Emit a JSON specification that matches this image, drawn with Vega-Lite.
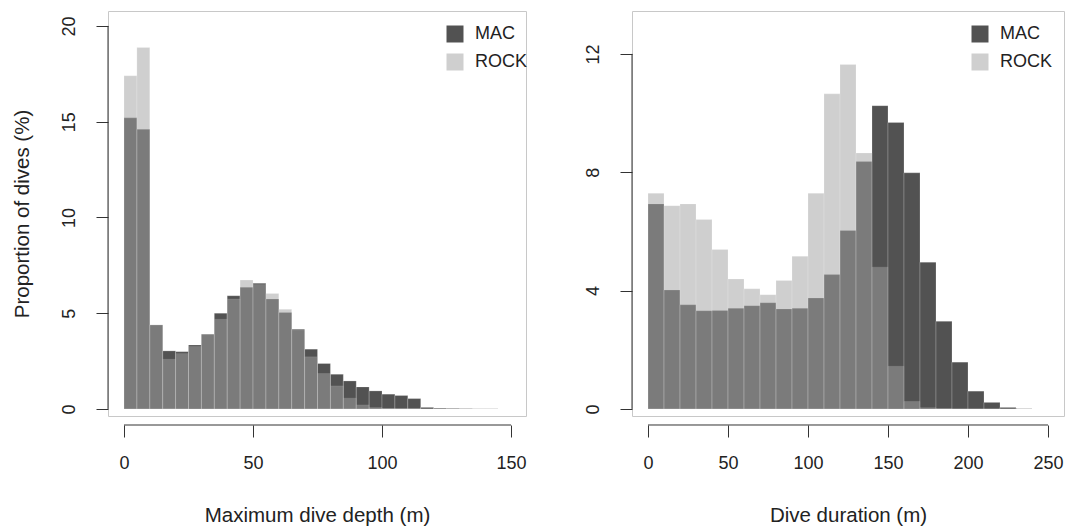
{
  "$schema": "https://vega.github.io/schema/vega-lite/v6.json",
  "background": "white",
  "padding": {"left": 11, "top": 10, "right": 5, "bottom": 5},
  "config": {
    "font": "Liberation Sans",
    "view": {"stroke": "#c8c8c8", "strokeWidth": 1},
    "axis": {
      "grid": false, "domain": false, "tickColor": "#333333", "tickSize": 12, "tickWidth": 1,
      "labelFontSize": 18, "labelColor": "#222222", "labelFont": "Liberation Sans",
      "titleFontSize": 20.5, "titleColor": "#222222", "titleFont": "Liberation Sans", "titleFontWeight": "normal"
    },
    "axisY": {"labelAngle": -90, "labelAlign": "center", "labelBaseline": "bottom", "labelPadding": 18, "titlePadding": 28},
    "axisX": {"offset": 9, "labelPadding": 17, "titlePadding": 33},
    "legend": {
      "orient": "none", "title": null, "symbolType": "square", "symbolSize": 289, "symbolStrokeWidth": 0,
      "labelFontSize": 18, "labelColor": "#222222", "labelFont": "Liberation Sans", "labelOffset": 11, "rowPadding": 10
    }
  },
  "datasets": {
    "depth": [
      {"site": "MAC", "lo": 0, "hi": 5, "pct": 15.2},
      {"site": "MAC", "lo": 5, "hi": 10, "pct": 14.6},
      {"site": "MAC", "lo": 10, "hi": 15, "pct": 4.38},
      {"site": "MAC", "lo": 15, "hi": 20, "pct": 3.03},
      {"site": "MAC", "lo": 20, "hi": 25, "pct": 2.99},
      {"site": "MAC", "lo": 25, "hi": 30, "pct": 3.34},
      {"site": "MAC", "lo": 30, "hi": 35, "pct": 3.9},
      {"site": "MAC", "lo": 35, "hi": 40, "pct": 5.0},
      {"site": "MAC", "lo": 40, "hi": 45, "pct": 5.91},
      {"site": "MAC", "lo": 45, "hi": 50, "pct": 6.35},
      {"site": "MAC", "lo": 50, "hi": 55, "pct": 6.56},
      {"site": "MAC", "lo": 55, "hi": 60, "pct": 5.74},
      {"site": "MAC", "lo": 60, "hi": 65, "pct": 5.04},
      {"site": "MAC", "lo": 65, "hi": 70, "pct": 4.16},
      {"site": "MAC", "lo": 70, "hi": 75, "pct": 3.12},
      {"site": "MAC", "lo": 75, "hi": 80, "pct": 2.37},
      {"site": "MAC", "lo": 80, "hi": 85, "pct": 1.81},
      {"site": "MAC", "lo": 85, "hi": 90, "pct": 1.46},
      {"site": "MAC", "lo": 90, "hi": 95, "pct": 1.15},
      {"site": "MAC", "lo": 95, "hi": 100, "pct": 0.94},
      {"site": "MAC", "lo": 100, "hi": 105, "pct": 0.77},
      {"site": "MAC", "lo": 105, "hi": 110, "pct": 0.7},
      {"site": "MAC", "lo": 110, "hi": 115, "pct": 0.54},
      {"site": "MAC", "lo": 115, "hi": 120, "pct": 0.08},
      {"site": "MAC", "lo": 120, "hi": 125, "pct": 0.04},
      {"site": "MAC", "lo": 125, "hi": 130, "pct": 0.03},
      {"site": "MAC", "lo": 130, "hi": 135, "pct": 0.02},
      {"site": "MAC", "lo": 135, "hi": 140, "pct": 0.01},
      {"site": "MAC", "lo": 140, "hi": 145, "pct": 0.01},
      {"site": "ROCK", "lo": 0, "hi": 5, "pct": 17.4},
      {"site": "ROCK", "lo": 5, "hi": 10, "pct": 18.87},
      {"site": "ROCK", "lo": 10, "hi": 15, "pct": 4.4},
      {"site": "ROCK", "lo": 15, "hi": 20, "pct": 2.59},
      {"site": "ROCK", "lo": 20, "hi": 25, "pct": 2.89},
      {"site": "ROCK", "lo": 25, "hi": 30, "pct": 3.26},
      {"site": "ROCK", "lo": 30, "hi": 35, "pct": 3.88},
      {"site": "ROCK", "lo": 35, "hi": 40, "pct": 4.68},
      {"site": "ROCK", "lo": 40, "hi": 45, "pct": 5.74},
      {"site": "ROCK", "lo": 45, "hi": 50, "pct": 6.73},
      {"site": "ROCK", "lo": 50, "hi": 55, "pct": 6.5},
      {"site": "ROCK", "lo": 55, "hi": 60, "pct": 6.03},
      {"site": "ROCK", "lo": 60, "hi": 65, "pct": 5.2},
      {"site": "ROCK", "lo": 65, "hi": 70, "pct": 4.12},
      {"site": "ROCK", "lo": 70, "hi": 75, "pct": 2.72},
      {"site": "ROCK", "lo": 75, "hi": 80, "pct": 1.85},
      {"site": "ROCK", "lo": 80, "hi": 85, "pct": 1.2},
      {"site": "ROCK", "lo": 85, "hi": 90, "pct": 0.56},
      {"site": "ROCK", "lo": 90, "hi": 95, "pct": 0.21},
      {"site": "ROCK", "lo": 95, "hi": 100, "pct": 0.07},
      {"site": "ROCK", "lo": 100, "hi": 105, "pct": 0.02},
      {"site": "ROCK", "lo": 105, "hi": 110, "pct": 0.01},
      {"site": "ROCK", "lo": 110, "hi": 115, "pct": 0.01}
    ],
    "duration": [
      {"site": "MAC", "lo": 0, "hi": 10, "pct": 6.93},
      {"site": "MAC", "lo": 10, "hi": 20, "pct": 4.02},
      {"site": "MAC", "lo": 20, "hi": 30, "pct": 3.52},
      {"site": "MAC", "lo": 30, "hi": 40, "pct": 3.32},
      {"site": "MAC", "lo": 40, "hi": 50, "pct": 3.33},
      {"site": "MAC", "lo": 50, "hi": 60, "pct": 3.4},
      {"site": "MAC", "lo": 60, "hi": 70, "pct": 3.49},
      {"site": "MAC", "lo": 70, "hi": 80, "pct": 3.59},
      {"site": "MAC", "lo": 80, "hi": 90, "pct": 3.38},
      {"site": "MAC", "lo": 90, "hi": 100, "pct": 3.4},
      {"site": "MAC", "lo": 100, "hi": 110, "pct": 3.75},
      {"site": "MAC", "lo": 110, "hi": 120, "pct": 4.54},
      {"site": "MAC", "lo": 120, "hi": 130, "pct": 6.03},
      {"site": "MAC", "lo": 130, "hi": 140, "pct": 8.36},
      {"site": "MAC", "lo": 140, "hi": 150, "pct": 10.25},
      {"site": "MAC", "lo": 150, "hi": 160, "pct": 9.68},
      {"site": "MAC", "lo": 160, "hi": 170, "pct": 7.98},
      {"site": "MAC", "lo": 170, "hi": 180, "pct": 4.96},
      {"site": "MAC", "lo": 180, "hi": 190, "pct": 2.96},
      {"site": "MAC", "lo": 190, "hi": 200, "pct": 1.58},
      {"site": "MAC", "lo": 200, "hi": 210, "pct": 0.6},
      {"site": "MAC", "lo": 210, "hi": 220, "pct": 0.22},
      {"site": "MAC", "lo": 220, "hi": 230, "pct": 0.05},
      {"site": "MAC", "lo": 230, "hi": 240, "pct": 0.01},
      {"site": "ROCK", "lo": 0, "hi": 10, "pct": 7.29},
      {"site": "ROCK", "lo": 10, "hi": 20, "pct": 6.87},
      {"site": "ROCK", "lo": 20, "hi": 30, "pct": 6.93},
      {"site": "ROCK", "lo": 30, "hi": 40, "pct": 6.4},
      {"site": "ROCK", "lo": 40, "hi": 50, "pct": 5.39},
      {"site": "ROCK", "lo": 50, "hi": 60, "pct": 4.39},
      {"site": "ROCK", "lo": 60, "hi": 70, "pct": 4.06},
      {"site": "ROCK", "lo": 70, "hi": 80, "pct": 3.86},
      {"site": "ROCK", "lo": 80, "hi": 90, "pct": 4.34},
      {"site": "ROCK", "lo": 90, "hi": 100, "pct": 5.16},
      {"site": "ROCK", "lo": 100, "hi": 110, "pct": 7.29},
      {"site": "ROCK", "lo": 110, "hi": 120, "pct": 10.65},
      {"site": "ROCK", "lo": 120, "hi": 130, "pct": 11.64},
      {"site": "ROCK", "lo": 130, "hi": 140, "pct": 8.65},
      {"site": "ROCK", "lo": 140, "hi": 150, "pct": 4.79},
      {"site": "ROCK", "lo": 150, "hi": 160, "pct": 1.44},
      {"site": "ROCK", "lo": 160, "hi": 170, "pct": 0.25},
      {"site": "ROCK", "lo": 170, "hi": 180, "pct": 0.04},
      {"site": "ROCK", "lo": 180, "hi": 190, "pct": 0.01}
    ]
  },
  "bounds": "flush",
  "spacing": 106,
  "resolve": {
    "scale": {"color": "independent", "opacity": "independent"},
    "legend": {"color": "independent", "opacity": "independent"}
  },
  "hconcat": [
    {
      "width": 418,
      "height": 405,
      "layer": [
        {
          "data": {"name": "depth"},
          "mark": {"type": "bar", "stroke": "#ffffff", "strokeWidth": 0.6, "strokeOpacity": 0.35},
          "encoding": {
            "x": {"field": "lo", "type": "quantitative",
                  "scale": {"domain": [-6.2, 155.8], "nice": false, "zero": false},
                  "axis": {"values": [0, 50, 100, 150], "title": "Maximum dive depth (m)"}},
            "x2": {"field": "hi"},
            "y": {"field": "pct", "type": "quantitative", "stack": null,
                  "scale": {"domain": [-0.37, 20.78], "nice": false, "zero": false},
                  "axis": {"values": [0, 5, 10, 15, 20], "title": "Proportion of dives (%)"}},
            "y2": {"datum": 0},
            "color": {"field": "site", "type": "nominal",
                      "scale": {"domain": ["MAC", "ROCK"], "range": ["#525252", "#a2a2a2"]},
                      "legend": {"legendX": 338, "legendY": 14}},
            "opacity": {"field": "site", "type": "nominal",
                        "scale": {"domain": ["MAC", "ROCK"], "range": [1, 0.514]},
                        "legend": {"legendX": 338, "legendY": 14}}
          }
        },
        {
          "data": {"values": [{}]},
          "mark": {"type": "rule", "color": "#333333", "strokeWidth": 1},
          "encoding": {"x": {"datum": 0}, "x2": {"datum": 150}, "y": {"datum": -0.84}}
        },
        {
          "data": {"values": [{}]},
          "mark": {"type": "rule", "color": "#333333", "strokeWidth": 1},
          "encoding": {"x": {"datum": -6.2}, "y": {"datum": 0}, "y2": {"datum": 20}}
        }
      ]
    },
    {
      "width": 432,
      "height": 405,
      "layer": [
        {
          "data": {"name": "duration"},
          "mark": {"type": "bar", "stroke": "#ffffff", "strokeWidth": 0.6, "strokeOpacity": 0.35},
          "encoding": {
            "x": {"field": "lo", "type": "quantitative",
                  "scale": {"domain": [-10, 260], "nice": false, "zero": false},
                  "axis": {"values": [0, 50, 100, 150, 200, 250], "title": "Dive duration (m)"}},
            "x2": {"field": "hi"},
            "y": {"field": "pct", "type": "quantitative", "stack": null,
                  "scale": {"domain": [-0.24, 13.45], "nice": false, "zero": false},
                  "axis": {"values": [0, 4, 8, 12], "title": null}},
            "y2": {"datum": 0},
            "color": {"field": "site", "type": "nominal",
                      "scale": {"domain": ["MAC", "ROCK"], "range": ["#525252", "#a2a2a2"]},
                      "legend": {"legendX": 339, "legendY": 14}},
            "opacity": {"field": "site", "type": "nominal",
                        "scale": {"domain": ["MAC", "ROCK"], "range": [1, 0.514]},
                        "legend": {"legendX": 339, "legendY": 14}}
          }
        },
        {
          "data": {"values": [{}]},
          "mark": {"type": "rule", "color": "#333333", "strokeWidth": 1},
          "encoding": {"x": {"datum": 0}, "x2": {"datum": 250}, "y": {"datum": -0.544}}
        },
        {
          "data": {"values": [{}]},
          "mark": {"type": "rule", "color": "#333333", "strokeWidth": 1},
          "encoding": {"x": {"datum": -10}, "y": {"datum": 0}, "y2": {"datum": 12}}
        }
      ]
    }
  ]
}
